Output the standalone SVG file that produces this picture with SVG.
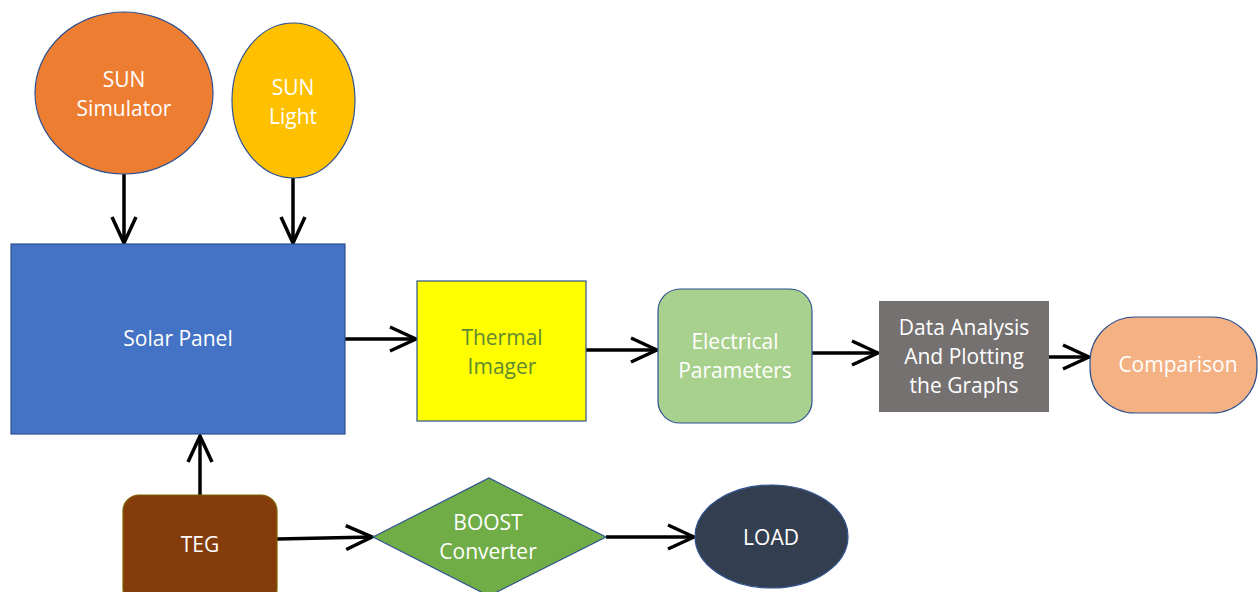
<svg xmlns="http://www.w3.org/2000/svg" width="1258" height="592" viewBox="0 0 1258 592">
<style>
text{font-family:"Open Sans","Liberation Sans",sans-serif;font-size:21px;fill:#ffffff;text-anchor:middle}
.o{stroke:#2F528F;stroke-width:1.2}
.c{stroke:#000;stroke-width:3.5;fill:none;marker-end:url(#ah)}
</style>
<defs>
<marker id="ah" markerUnits="userSpaceOnUse" viewBox="-30 -15 34 30" refX="0" refY="0" markerWidth="34" markerHeight="30" orient="auto">
<path d="M-26,-12 L0,0 L-26,12" fill="none" stroke="#000" stroke-width="3.5"/>
</marker>
</defs>
<rect width="1258" height="592" fill="#ffffff"/>
<g id="connectors">
<line class="c" x1="124" y1="174" x2="124" y2="243"/>
<line class="c" x1="293" y1="178" x2="293" y2="243"/>
<line class="c" x1="345" y1="339" x2="416" y2="339"/>
<line class="c" x1="586" y1="350" x2="657" y2="350"/>
<line class="c" x1="812" y1="353" x2="878" y2="353"/>
<line class="c" x1="1049" y1="357" x2="1089" y2="357"/>
<line class="c" x1="200" y1="495" x2="200" y2="436"/>
<line class="c" x1="277" y1="539" x2="372" y2="537"/>
<line class="c" x1="606" y1="537" x2="694" y2="537"/>
</g>
<g id="sun-simulator">
<ellipse cx="124" cy="93" rx="89" ry="81" fill="#ED7D31" class="o"/>
<text x="124" y="87">SUN</text>
<text x="124" y="116">Simulator</text>
</g>
<g id="sun-light">
<ellipse cx="293.5" cy="100.5" rx="61.5" ry="77.5" fill="#FFC000" class="o"/>
<text x="293" y="95">SUN</text>
<text x="293" y="124">Light</text>
</g>
<g id="solar-panel">
<rect x="11" y="244" width="334" height="190" fill="#4472C4" stroke="#2F528F" stroke-width="1.2"/>
<text x="178" y="346">Solar Panel</text>
</g>
<g id="thermal-imager">
<rect x="417" y="281" width="169" height="140" fill="#FFFF00" class="o"/>
<text x="502" y="345" style="fill:#5E8A34">Thermal</text>
<text x="502" y="374" style="fill:#5E8A34">Imager</text>
</g>
<g id="electrical-parameters">
<rect x="658" y="289" width="154" height="134" rx="22" fill="#A9D18E" class="o"/>
<text x="735" y="349">Electrical</text>
<text x="735" y="378">Parameters</text>
</g>
<g id="data-analysis">
<rect x="879" y="301" width="170" height="111" fill="#767171"/>
<text x="964" y="335">Data Analysis</text>
<text x="964" y="364">And Plotting</text>
<text x="964" y="393">the Graphs</text>
</g>
<g id="comparison">
<rect x="1090" y="317" width="167" height="96" rx="45" fill="#F4B183" class="o"/>
<text x="1178" y="372">Comparison</text>
</g>
<g id="teg">
<rect x="123" y="495" width="154" height="110" rx="16" fill="#843C0C" stroke="#7F6000" stroke-width="1.2"/>
<text x="200" y="552">TEG</text>
</g>
<g id="boost-converter">
<polygon points="373,537 489,478 606,537 489,596" fill="#70AD47" class="o"/>
<text x="488" y="530">BOOST</text>
<text x="488" y="559">Converter</text>
</g>
<g id="load">
<ellipse cx="771.5" cy="536.5" rx="76.5" ry="51.5" fill="#333F50" class="o"/>
<text x="771" y="545">LOAD</text>
</g>
</svg>
